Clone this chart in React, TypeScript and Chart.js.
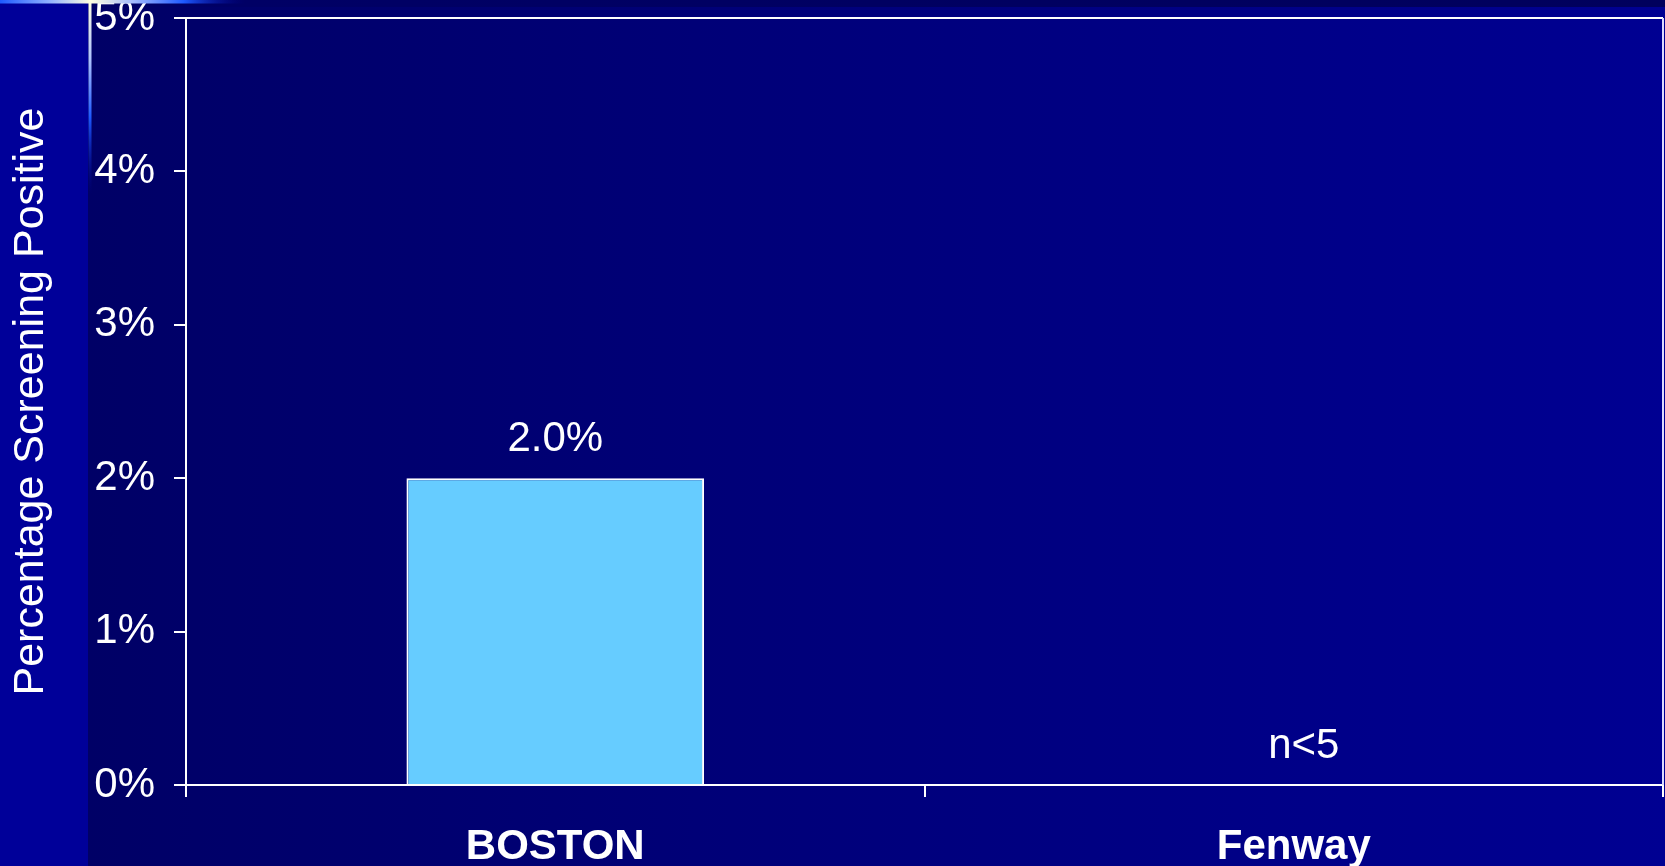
import React, { useEffect, useRef } from "react";
import { Chart, registerables } from "chart.js";

Chart.register(...registerables);

const categories: string[] = ["BOSTON", "Fenway"];
const values: (number | null)[] = [2.0, null];
const valueLabels: string[] = ["2.0%", "n<5"];
const yTicks: number[] = [0, 1, 2, 3, 4, 5];
const yTitle = "Percentage Screening Positive";

const FONT = "'Liberation Sans', Arial, sans-serif";
const MISSING_LABEL_SHIFT = 10;

const backgroundPlugin = {
  id: "slideBackground",
  beforeDraw(chart: any) {
    const { ctx, width, height } = chart;
    ctx.save();
    const g = ctx.createLinearGradient(88, 0, width, 0);
    g.addColorStop(0, "#000066");
    g.addColorStop(1, "#000092");
    ctx.fillStyle = g;
    ctx.fillRect(0, 0, width, height);
    const tb = ctx.createLinearGradient(88, 0, width, 0);
    tb.addColorStop(0, "#000066");
    tb.addColorStop(1, "#00005c");
    ctx.fillStyle = tb;
    ctx.fillRect(88, 0, width - 88, 7);
    ctx.fillStyle = "#000099";
    ctx.fillRect(0, 0, 88, height);
    ctx.restore();
  },
  afterDraw(chart: any) {
    const { ctx, chartArea } = chart;
    ctx.save();
    ctx.strokeStyle = "#ffffff";
    ctx.lineWidth = 2;
    ctx.beginPath();
    ctx.moveTo(chartArea.left, chartArea.top);
    ctx.lineTo(chartArea.right, chartArea.top);
    ctx.stroke();
    ctx.strokeStyle = "#dcdcff";
    ctx.beginPath();
    ctx.moveTo(chartArea.right, chartArea.top);
    ctx.lineTo(chartArea.right, chartArea.bottom);
    ctx.stroke();
    const hl = ctx.createLinearGradient(0, 0, 245, 0);
    hl.addColorStop(0, "#1e5aff");
    hl.addColorStop(0.2, "#8fb0ff");
    hl.addColorStop(0.37, "#ffffe0");
    hl.addColorStop(0.55, "#a0b8ff");
    hl.addColorStop(0.75, "#1e5aff");
    hl.addColorStop(1, "rgba(0,0,150,0)");
    ctx.fillStyle = hl;
    ctx.fillRect(0, 0, 245, 3.5);
    const vl = ctx.createLinearGradient(0, 0, 0, 195);
    vl.addColorStop(0, "#ffffe0");
    vl.addColorStop(0.3, "#b0c4ff");
    vl.addColorStop(0.6, "#1e5aff");
    vl.addColorStop(1, "rgba(0,0,150,0)");
    ctx.fillStyle = vl;
    ctx.fillRect(88.5, 0, 3, 195);
    ctx.restore();
  },
};

const valueLabelPlugin = {
  id: "valueLabels",
  afterDatasetsDraw(chart: any) {
    const { ctx } = chart;
    const xs = chart.scales.x;
    const ys = chart.scales.y;
    ctx.save();
    ctx.fillStyle = "#ffffff";
    ctx.font = `42px ${FONT}`;
    ctx.textAlign = "center";
    ctx.textBaseline = "alphabetic";
    categories.forEach((_, i) => {
      const missing = values[i] == null;
      const v = values[i] ?? 0;
      const x = xs.getPixelForValue(i) + (missing ? MISSING_LABEL_SHIFT : 0);
      const y = ys.getPixelForValue(v) - 27;
      ctx.fillText(valueLabels[i], x, y);
    });
    ctx.restore();
  },
};

export default function App() {
  const ref = useRef<HTMLCanvasElement | null>(null);

  useEffect(() => {
    document.body.style.margin = "0";
    document.body.style.background = "#000066";
    const canvas = ref.current;
    if (!canvas) return;
    const chart = new Chart(canvas, {
      type: "bar",
      data: {
        labels: categories,
        datasets: [
          {
            data: values as any,
            backgroundColor: "#66CCFF",
            borderColor: "#ffffff",
            borderWidth: 2,
            borderSkipped: "bottom",
            categoryPercentage: 1,
            barPercentage: 0.403,
          },
        ],
      },
      options: {
        animation: false,
        responsive: false,
        devicePixelRatio: 1,
        layout: { padding: { top: 18, right: 2, left: 0, bottom: 0 } },
        plugins: {
          legend: { display: false },
          tooltip: { enabled: false },
        },
        scales: {
          x: {
            type: "category",
            offset: true,
            grid: {
              display: true,
              offset: true,
              drawOnChartArea: false,
              drawTicks: true,
              tickLength: 12,
              color: "#ffffff",
              lineWidth: 2,
            },
            border: { display: true, color: "#ffffff", width: 2 },
            ticks: {
              color: "#ffffff",
              font: { family: FONT, size: 42, weight: "bold" },
              padding: 25,
              maxRotation: 0,
            },
            afterFit: (s: any) => {
              s.height = 81;
              s.paddingLeft = 0;
              s.paddingRight = 0;
            },
          },
          y: {
            min: 0,
            max: 5,
            afterBuildTicks: (s: any) => {
              s.ticks = yTicks.map((v) => ({ value: v }));
            },
            grid: {
              display: true,
              drawOnChartArea: false,
              drawTicks: true,
              tickLength: 12,
              color: "#ffffff",
              lineWidth: 2,
            },
            border: { display: true, color: "#ffffff", width: 2 },
            ticks: {
              color: "#ffffff",
              font: { family: FONT, size: 42 },
              padding: 19,
              callback: (v: any) => `${v}%`,
            },
            title: {
              display: true,
              text: yTitle,
              color: "#ffffff",
              font: { family: FONT, size: 43 },
              padding: { top: 5, bottom: 0 },
            },
            afterFit: (s: any) => {
              s.width = 186;
              s.paddingTop = 0;
              s.paddingBottom = 0;
            },
          },
        },
      },
      plugins: [backgroundPlugin, valueLabelPlugin],
    });
    return () => chart.destroy();
  }, []);

  return (
    <div style={{ width: 1665, height: 866 }}>
      <canvas ref={ref} width={1665} height={866} style={{ display: "block" }} />
    </div>
  );
}
